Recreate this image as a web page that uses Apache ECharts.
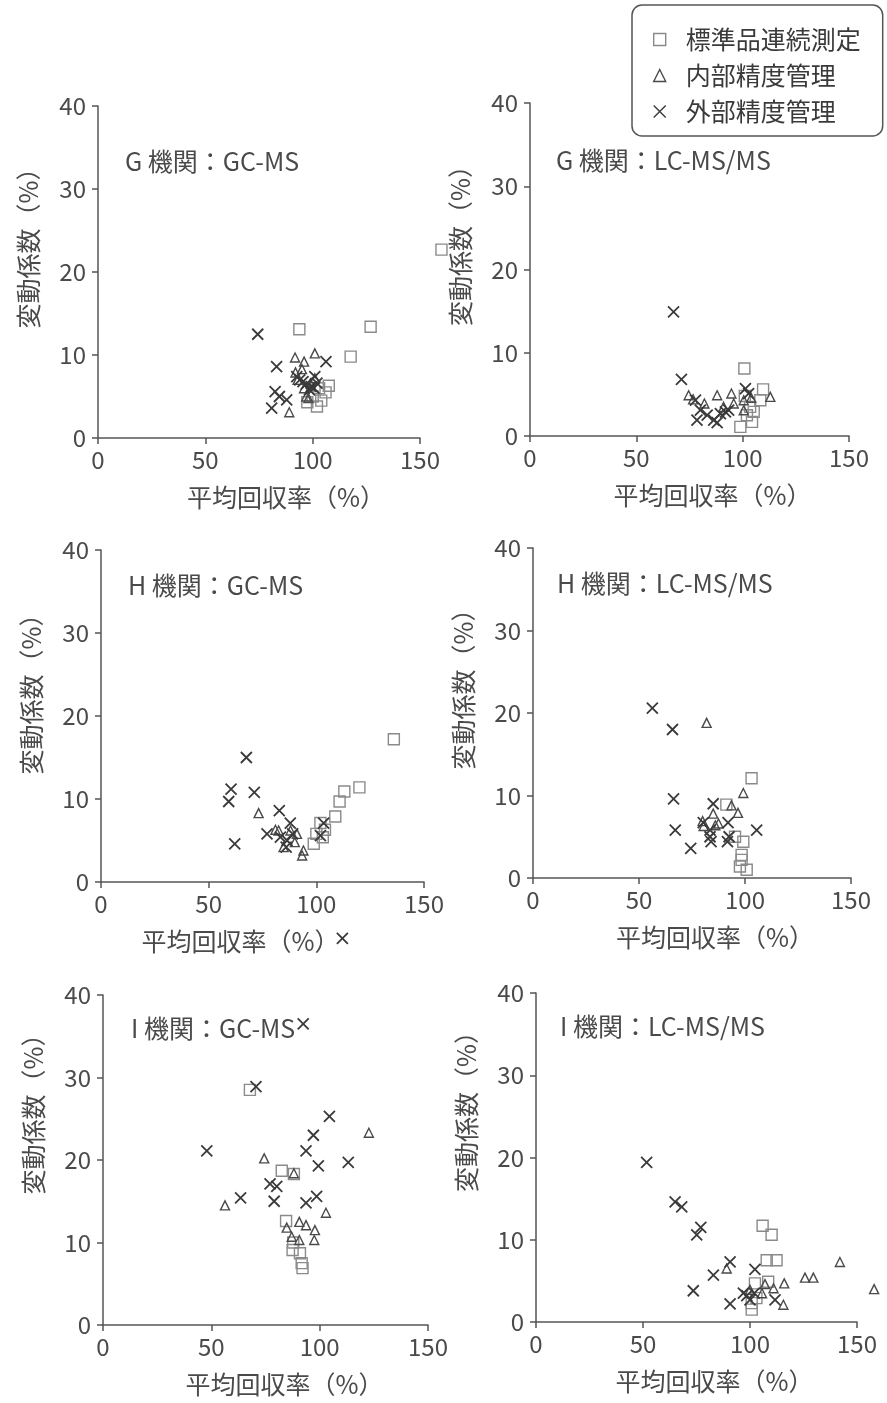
<!DOCTYPE html>
<html><head><meta charset="utf-8">
<script src="https://cdn.jsdelivr.net/npm/echarts@6/dist/echarts.min.js"></script>
<style>html,body{margin:0;padding:0;background:#fff}#c{width:887px;height:1403px}</style>
</head><body><div id="c"></div>
<script>
const panelTitles = ['G 機関：GC-MS','G 機関：LC-MS/MS','H 機関：GC-MS','H 機関：LC-MS/MS','I 機関：GC-MS','I 機関：LC-MS/MS'];
const seriesNames = ['標準品連続測定','内部精度管理','外部精度管理'];
const xTicks = [0,50,100,150];
const yTicks = [0,10,20,30,40];
const xName = '平均回収率（%）';
const yName = '変動係数（%）';

const gGcStd = [[93.8,13.1],[127,13.4],[117.7,9.8],[107.5,6.3],[106,5.5],[104,4.5],[97.5,4.3],[102,3.8],[100,5.0],[103,6.0],[160,22.7]];
const gGcInt = [[91.8,9.7],[96,9.2],[101,10.2],[89.1,3.1],[92,7.9],[93,7.0],[96,6.0],[97,5.0],[99,6.6],[101,7.2],[95,8.3],[98,4.8]];
const gGcExt = [[74.4,12.5],[83.2,8.6],[106.2,9.2],[80.9,3.6],[82.5,5.6],[84.5,5.0],[87.9,4.6],[92.6,7.4],[94,7.0],[101,7.4],[99.3,6.2],[100.6,6.0],[97,6.5],[98.5,5.8],[95.5,6.8],[102,6.6]];

const gLcStd = [[100.8,8.1],[109.6,5.6],[108.3,4.3],[105.2,2.9],[104.4,1.7],[98.9,1.1],[102,2.5],[103.5,3.5],[101,4.8]];
const gLcInt = [[74.6,4.9],[76.7,4.4],[88,4.9],[94.7,5.1],[113,4.7],[82,3.9],[95.8,3.9],[100.5,4.3],[100.5,3.1],[91,3.5],[104,4.6]];
const gLcExt = [[67.5,14.9],[71.2,6.8],[77.8,4.3],[80.1,3.1],[78.5,1.9],[83.3,2.5],[86.4,1.9],[89.5,2.7],[91.9,2.9],[93.4,3.1],[101.3,5.7],[102.8,5.1],[88,1.6]];

const hGcStd = [[136,17.2],[120,11.4],[113,10.9],[110.8,9.7],[108.8,7.9],[101.9,7.1],[104,6.3],[103,5.4],[98.8,4.6],[100,5.8]];
const hGcInt = [[73.2,8.3],[81,6.3],[84.8,4.2],[93.4,3.2],[94,3.8],[91,5.8],[88,6.2],[82.5,6.2],[90,4.8]];
const hGcExt = [[67.5,15.0],[60.4,11.2],[59.3,9.7],[71.2,10.8],[62.1,4.6],[82.8,8.6],[77.1,5.8],[83.3,5.4],[87.9,7.1],[86.4,5.0],[89,5.8],[103.4,7.1],[101.9,5.6],[86,4.2],[112.1,-6.8]];

const hLcStd = [[103.1,12.1],[91.2,8.9],[95.3,5.0],[99.2,4.4],[98.4,2.8],[97.6,1.4],[100.8,1.0],[98.4,2.2]];
const hLcInt = [[81.9,18.8],[99.2,10.3],[93.6,8.8],[96.7,7.9],[85,7.8],[80,6.9],[87.5,6.6],[86,6.4],[80.5,6.3]];
const hLcExt = [[56.3,20.6],[65.8,18.0],[66.3,9.6],[67.1,5.8],[74.4,3.6],[105.5,5.8],[85,9.0],[80.3,6.7],[83.5,5.0],[84,4.4],[92,6.7],[92.5,5.0],[91.7,4.4],[83.5,5.8]];

const iGcStd = [[67.8,28.5],[82.5,18.7],[88.1,18.3],[84.5,12.6],[87.8,10.0],[87.5,9.1],[90.9,8.7],[91.7,7.5],[92.1,6.9]];
const iGcInt = [[122.7,23.3],[74.4,20.2],[88.1,18.4],[56.3,14.5],[102.9,13.6],[84.8,11.8],[90.6,12.5],[93.7,12.1],[97.8,11.5],[97.5,10.3],[87.1,10.7],[90.6,10.3]];
const iGcExt = [[70.6,28.9],[92.4,36.5],[104.5,25.3],[97.1,23.0],[47.9,21.1],[93.7,21.1],[99.4,19.3],[113.2,19.7],[77.1,17.1],[80.2,16.8],[63.5,15.4],[79,15.0],[98.6,15.6],[93.7,14.8]];

const iLcStd = [[105.9,11.7],[110.1,10.6],[107.8,7.5],[112.4,7.5],[102.3,4.7],[108.5,4.9],[100.8,2.3],[100.8,1.5],[103,2.9]];
const iLcInt = [[142,7.3],[125.7,5.4],[129.6,5.4],[158,4.0],[116,4.7],[111,4.1],[107,4.6],[105.6,3.5],[115.6,2.1],[89.1,6.5],[100,3.9]];
const iLcExt = [[51.7,19.4],[65,14.6],[68.1,14.0],[77,11.5],[75.1,10.6],[90.7,7.3],[82.9,5.7],[73.5,3.8],[102.3,6.4],[90.7,2.2],[96.9,3.5],[100,2.7],[102,3.5],[111.7,2.7],[98.5,3.2]];

const panelData = [
  [gGcStd,gGcInt,gGcExt],[gLcStd,gLcInt,gLcExt],
  [hGcStd,hGcInt,hGcExt],[hLcStd,hLcInt,hLcExt],
  [iGcStd,iGcInt,iGcExt],[iLcStd,iLcInt,iLcExt]
];

// layout (pixels)
const grids = [
  {left:98, top:106, width:322, height:332},
  {left:530, top:103, width:319, height:333},
  {left:101, top:550, width:323, height:332},
  {left:533, top:548, width:318, height:330},
  {left:103, top:995, width:325, height:330},
  {left:536, top:993, width:321, height:329}
];
const titlePos = [[125,149],[556,148],[128,573],[557,571],[131,1016],[560,1014]];
const yNameShift = [30,30,28,30,52,52];   // upward shift of y name
const xNameShift = [27,23,-22,23,19,18];  // rightward shift of x name

const FONT = '"Noto Sans CJK JP", "Noto Sans", sans-serif';
const AXIS = '#555';
const TXT = '#4a4a4a';
const crossPath = 'path://M0,0L10,10M10,0L0,10';
const symbols = ['rect','triangle',crossPath];
const sizes = [11,9,11];
const colors = ['#8a8a8a','#4a4a4a','#3a3a3a'];

const xAxes = [], yAxes = [], series = [], titles = [];
grids.forEach((g,i)=>{
  const dx = xNameShift[i], dy = yNameShift[i];
  xAxes.push({
    gridIndex:i, type:'value', min:xTicks[0], max:xTicks[xTicks.length-1], interval:50,
    name:xName, nameLocation:'middle', nameGap:47,
    nameTextStyle:{fontFamily:FONT, fontSize:25, color:TXT,
      padding: dx>=0 ? [0,0,0,2*dx] : [0,-2*dx,0,0]},
    axisLine:{show:true, onZero:false, lineStyle:{color:AXIS, width:1.5}},
    axisTick:{show:true, length:6, lineStyle:{color:AXIS, width:1.5}},
    axisLabel:{fontFamily:FONT, fontSize:24, color:TXT, margin:10},
    splitLine:{show:false}
  });
  yAxes.push({
    gridIndex:i, type:'value', min:yTicks[0], max:yTicks[yTicks.length-1], interval:10,
    name:yName, nameLocation:'middle', nameGap:57, nameRotate:90,
    nameTextStyle:{fontFamily:FONT, fontSize:25, color:TXT, padding:[0,0,0,2*dy]},
    axisLine:{show:true, onZero:false, lineStyle:{color:AXIS, width:1.5}},
    axisTick:{show:true, length:6, lineStyle:{color:AXIS, width:1.5}},
    axisLabel:{fontFamily:FONT, fontSize:24, color:TXT, margin:12},
    splitLine:{show:false}
  });
  titles.push({text:panelTitles[i], left:titlePos[i][0], top:titlePos[i][1], padding:0,
    textStyle:{fontFamily:FONT, fontSize:25, fontWeight:'normal', color:TXT}});
  panelData[i].forEach((d,k)=>{
    series.push({
      name:seriesNames[k], type:'scatter', xAxisIndex:i, yAxisIndex:i,
      data:d, symbol:symbols[k], symbolSize:sizes[k], clip:false,
      itemStyle:{color:'rgba(0,0,0,0)', borderColor:colors[k], borderWidth: k===2?1.8:1.4, opacity:1},
      emphasis:{disabled:true}, z: 3+k
    });
  });
});

const chart = echarts.init(document.getElementById('c'), null, {renderer:'canvas'});
chart.setOption({
  animation:false,
  backgroundColor:'#fff',
  title:titles,
  grid:grids.map(g=>Object.assign({outerBoundsMode:'none', containLabel:false}, g)),
  xAxis:xAxes, yAxis:yAxes,
  legend:{
    data:seriesNames.map((n,k)=>({name:n, icon:symbols[k],
      itemStyle:{color:'rgba(0,0,0,0)', borderColor:colors[k], borderWidth:1.4}})),
    orient:'vertical', left:632, top:5,
    itemWidth:12, itemHeight:12, itemGap:11,
    padding:[22,22,12,21],
    borderColor:'#555', borderWidth:1.5, borderRadius:10,
    textStyle:{fontFamily:FONT, fontSize:25, color:'#3a3a3a', padding:[0,0,0,15]},
    selectedMode:false
  },
  series:series
});
</script></body></html>
